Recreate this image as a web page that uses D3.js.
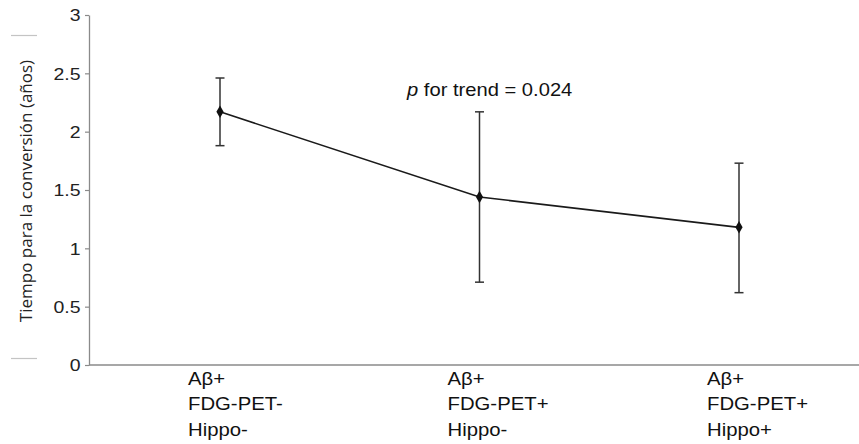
<!DOCTYPE html>
<html>
<head>
<meta charset="utf-8">
<script src="https://cdn.jsdelivr.net/npm/d3@7/dist/d3.min.js"></script>
<style>
  html, body { margin: 0; padding: 0; background: #fff; }
  svg { display: block; }
</style>
</head>
<body>
<svg id="chart" width="859" height="444"></svg>
<script>
// Groups (three lines of label each)
const groups = ["g1", "g2", "g3"];
const groupLabels = [
  ["A\u03b2+", "FDG-PET-", "Hippo-"],
  ["A\u03b2+", "FDG-PET+", "Hippo-"],
  ["A\u03b2+", "FDG-PET+", "Hippo+"]
];
// Mean time to conversion (years) and error-bar limits
const means = [2.17, 1.44, 1.18];
const upper = [2.46, 2.17, 1.73];
const lower = [1.88, 0.71, 0.62];
const yTicks = [0, 0.5, 1, 1.5, 2, 2.5, 3];
const yTitle = "Tiempo para la conversi\u00f3n (a\u00f1os)";
const trendLabel = ["p", " for trend = 0.024"];

const svg = d3.select("#chart");
const axisX0 = 89, axisX1 = 859;
const y = d3.scaleLinear().domain([0, 3]).range([365, 15]);
const x = d3.scalePoint().domain(groups).range([220, 739]);

const tickFont = "'Liberation Sans', Arial, sans-serif";

// Y axis
const yAxis = svg.append("g")
  .attr("transform", `translate(${axisX0},0)`)
  .call(d3.axisLeft(y).tickValues(yTicks).tickSize(4).tickSizeOuter(0)
        .tickFormat(d => d3.format("~g")(d)));
yAxis.select(".domain").attr("stroke", "#8a8a8a").attr("stroke-width", 1.3);
yAxis.selectAll(".tick line").attr("stroke", "#8a8a8a").attr("stroke-width", 1.2);
yAxis.selectAll(".tick text")
  .attr("x", -7.2)
  .attr("dy", "0.36em")
  .attr("transform", "scale(1.18,1)")
  .attr("fill", "#222")
  .style("font-family", tickFont)
  .style("font-size", "16.5px");

// X axis line
svg.append("line")
  .attr("x1", axisX0).attr("x2", axisX1)
  .attr("y1", y(0)).attr("y2", y(0))
  .attr("stroke", "#8a8a8a").attr("stroke-width", 1.3);

// X category labels
groups.forEach((g, i) => {
  const t = svg.append("text")
    .attr("transform", `translate(${x(g) - 32},385) scale(1.07,1)`)
    .attr("fill", "#111")
    .style("font-family", tickFont)
    .style("font-size", "19px");
  groupLabels[i].forEach((line, j) => {
    t.append("tspan").attr("x", 0).attr("y", j * 25.5).text(line);
  });
});

// Error bars
const capW = 7;
const eb = svg.append("g").attr("stroke", "#333").attr("stroke-width", 1.5);
groups.forEach((g, i) => {
  const cx = x(g);
  eb.append("line").attr("x1", cx).attr("x2", cx).attr("y1", y(upper[i])).attr("y2", y(lower[i]));
  eb.append("line").attr("x1", cx - capW / 2 - 1).attr("x2", cx + capW / 2 + 1).attr("y1", y(upper[i])).attr("y2", y(upper[i]));
  eb.append("line").attr("x1", cx - capW / 2 - 1).attr("x2", cx + capW / 2 + 1).attr("y1", y(lower[i])).attr("y2", y(lower[i]));
});

// Mean line
const line = d3.line().x((d, i) => x(groups[i])).y(d => y(d));
svg.append("path")
  .datum(means)
  .attr("d", line)
  .attr("fill", "none")
  .attr("stroke", "#1a1a1a")
  .attr("stroke-width", 1.6);

// Mean markers
svg.selectAll("path.marker")
  .data(means)
  .join("path")
  .attr("class", "marker")
  .attr("d", d3.symbol().type(d3.symbolDiamond).size(45))
  .attr("transform", (d, i) => `translate(${x(groups[i])},${y(d)})`)
  .attr("fill", "#111");

// Trend annotation
const pt = svg.append("text")
  .attr("transform", "translate(407,96) scale(1.12,1)")
  .attr("fill", "#111")
  .style("font-family", tickFont)
  .style("font-size", "18px");
pt.append("tspan").style("font-style", "italic").text(trendLabel[0]);
pt.append("tspan").text(trendLabel[1]);

// Y axis title with its bracket lines
svg.append("text")
  .attr("transform", "translate(31.5,191) rotate(-90)")
  .attr("text-anchor", "middle")
  .attr("fill", "#222")
  .style("font-family", "'Open Sans', 'Noto Sans', sans-serif")
  .style("font-size", "17px")
  .text(yTitle);
svg.append("g").attr("stroke", "#c4c4c4").attr("stroke-width", 1.2)
  .selectAll("line").data([35.5, 358.5]).join("line")
  .attr("x1", 11).attr("x2", 37)
  .attr("y1", d => d).attr("y2", d => d);
</script>
</body>
</html>
